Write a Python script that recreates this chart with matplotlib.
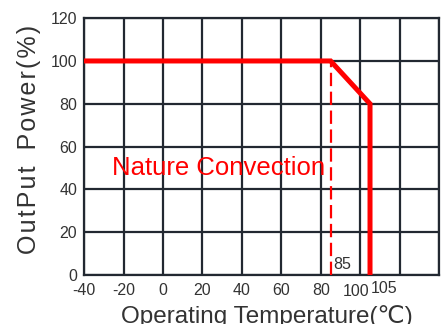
import matplotlib
matplotlib.use("Agg")
import matplotlib.pyplot as plt

# derating curve (natural convection)
temps = [-40, 85, 105, 105]
power = [100, 100, 80, 0]
knee_temp = 85
knee_power = 100

xticks = [-40, -20, 0, 20, 40, 60, 80, 100, 120, 140]
xtick_labels = ['-40', '-20', '0', '20', '40', '60', '80', '', '', '']
yticks = [0, 20, 40, 60, 80, 100, 120]

red = '#ff0000'
grid_col = '#222831'
txt_col = '#333333'

plt.rcParams['font.family'] = ['Liberation Sans', 'DejaVu Sans', 'Noto Sans CJK SC']

fig = plt.figure(figsize=(4.43, 3.24), dpi=100)
ax = fig.add_axes([0.190, 0.151, 0.801, 0.793])

ax.set_xlim(-40, 140)
ax.set_ylim(0, 120)
ax.set_xticks(xticks)
ax.set_xticklabels(xtick_labels)
ax.set_yticks(yticks)
ax.grid(True, color=grid_col, linewidth=1.6)
for s in ax.spines.values():
    s.set_color(grid_col)
    s.set_linewidth(1.6)
ax.tick_params(length=0, labelsize=11.5, colors=txt_col)
ax.tick_params(axis='x', pad=6)
ax.tick_params(axis='y', pad=5)
for lab in ax.get_yticklabels():
    lab.set_va('center_baseline')

ax.plot(temps, power, color=red, linewidth=3.6, solid_joinstyle='miter', zorder=5)
ax.plot([knee_temp, knee_temp], [0, knee_power], color=red, linewidth=1.6,
        dashes=(6, 2.5), zorder=4)

ax.text(-26, 50, 'Nature Convection', color=red, fontsize=18.5, va='center', ha='left', zorder=6)
ax.text(86.5, 1.5, '85', color=txt_col, fontsize=11.5, va='bottom', ha='left')
ax.text(104.5, -4.0, '100', color=txt_col, fontsize=11.5, va='top', ha='right', clip_on=False)
ax.text(105.3, -3.0, '105', color=txt_col, fontsize=11.5, va='top', ha='left', clip_on=False)

ylab = '\u200a'.join('OutPut Power(%)').replace(' \u200a', '  ')
fig.text(0.066, 0.571, ylab, rotation=90, fontsize=18, color=txt_col,
         ha='center', va='center')
fig.text(0.602, -0.012, 'Operating Temperature(\u2103)', fontsize=17.5, color=txt_col,
         ha='center', va='bottom')

fig.savefig('out.png', dpi=100)
